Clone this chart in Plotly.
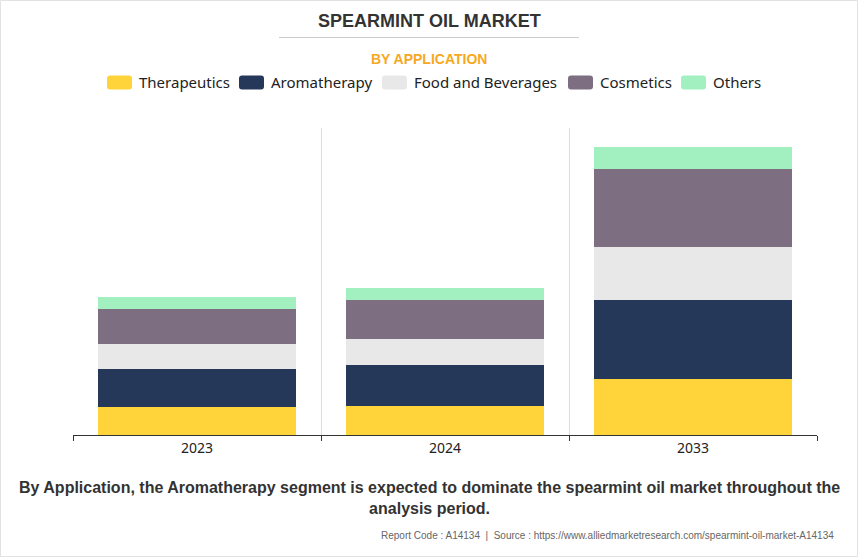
import plotly.graph_objects as go

years = ["2023", "2024", "2033"]
therapeutics = [27.7, 29.4, 56.0]
aromatherapy = [38.0, 40.3, 79.0]
food_beverages = [25.0, 26.7, 53.0]
cosmetics = [35.3, 39.0, 78.0]
others = [11.7, 12.0, 21.7]

names = ["Therapeutics", "Aromatherapy", "Food and Beverages", "Cosmetics", "Others"]
values = [therapeutics, aromatherapy, food_beverages, cosmetics, others]
colors = ["#FFD33A", "#253859", "#E8E8E9", "#7D6E82", "#A2F0C0"]

fig = go.Figure()
for name, vals, col in zip(names, values, colors):
    fig.add_trace(go.Bar(x=years, y=vals, name=name, showlegend=False,
                         marker=dict(color=col, line=dict(width=0))))

W, H = 858, 557
L, R, T, B = 73, 41, 128, 122
pw, ph = W - L - R, H - T - B

def px(x):
    return (x - L) / pw

def py(y):
    return (H - B - y) / ph

def rrect(x0, y0, x1, y1, r):
    X0, X1, Y0, Y1 = px(x0), px(x1), py(y0), py(y1)
    rx, ry = r / pw, r / ph
    return (f"M{X0+rx},{Y0} L{X1-rx},{Y0} Q{X1},{Y0} {X1},{Y0-ry} "
            f"L{X1},{Y1+ry} Q{X1},{Y1} {X1-rx},{Y1} L{X0+rx},{Y1} Q{X0},{Y1} {X0},{Y1+ry} "
            f"L{X0},{Y0-ry} Q{X0},{Y0} {X0+rx},{Y0} Z")

# legend layout (screen pixels)
swatch_x = [107, 239, 382, 568, 681]
text_x = [137, 269, 412, 598, 711]
leg_y = 82.5

shapes = [
    dict(type="line", xref="paper", yref="paper", x0=px(279), x1=px(579), y0=py(37.5), y1=py(37.5),
         line=dict(color="#CCCCCC", width=1)),
    dict(type="rect", xref="paper", yref="paper", x0=px(0.5), x1=px(W - 0.5), y0=py(0.5), y1=py(H - 0.5),
         line=dict(color="#E2E2E2", width=1)),
]
annotations = [
    dict(text="<b>SPEARMINT OIL MARKET</b>", x=px(429), y=py(21), xref="paper", yref="paper",
         xanchor="center", yanchor="middle", showarrow=False,
         font=dict(family="Liberation Sans", size=18, color="#333333")),
    dict(text="<b>BY APPLICATION</b>", x=px(429), y=py(59), xref="paper", yref="paper",
         xanchor="center", yanchor="middle", showarrow=False,
         font=dict(family="Liberation Sans", size=14, color="#F7A823")),
    dict(text="<b>By Application, the Aromatherapy segment is expected to dominate the spearmint oil market throughout the<br>analysis period.</b>",
         x=px(429), y=py(498), xref="paper", yref="paper", xanchor="center", yanchor="middle",
         showarrow=False, font=dict(family="Liberation Sans", size=16, color="#333333")),
    dict(text="Report Code : A14134  |  Source : https://www.alliedmarketresearch.com/spearmint-oil-market-A14134",
         x=px(836), y=py(535), xref="paper", yref="paper", xanchor="right", yanchor="middle",
         showarrow=False, font=dict(family="Liberation Sans", size=10, color="#666666")),
]
for name, col, sx, tx in zip(names, colors, swatch_x, text_x):
    shapes.append(dict(type="path", xref="paper", yref="paper", path=rrect(sx, leg_y - 7, sx + 25, leg_y + 7, 3),
                       fillcolor=col, line=dict(width=0)))
    annotations.append(dict(text=name, x=px(tx), y=py(leg_y), xref="paper", yref="paper",
                            xanchor="left", yanchor="middle", showarrow=False,
                            font=dict(family="Noto Sans", size=15, color="#222222")))

fig.update_layout(
    width=W, height=H,
    margin=dict(l=L, r=R, t=T, b=B),
    barmode="stack", bargap=0.2,
    paper_bgcolor="#FFFFFF", plot_bgcolor="#FFFFFF",
    showlegend=False,
    xaxis=dict(type="category", tickson="boundaries", showgrid=True, gridcolor="#DDDDDD", gridwidth=1,
               showline=True, linecolor="#333333", linewidth=1, ticks="outside", ticklen=5,
               tickcolor="#333333", tickfont=dict(family="Noto Sans", size=14, color="#222222")),
    yaxis=dict(range=[0, ph], visible=False, showgrid=False, zeroline=False),
    annotations=annotations,
    shapes=shapes,
)

fig.write_html("out.html", config={"displayModeBar": False},
               post_script="document.body.style.margin='0px';document.body.style.overflow='hidden';")
